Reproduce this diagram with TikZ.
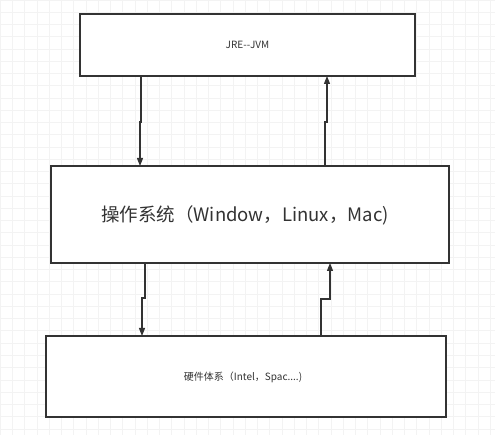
\documentclass[tikz,border=0pt]{standalone}
\usepackage{fontspec}
\setmainfont{Noto Sans CJK SC}
\usetikzlibrary{arrows.meta}
\definecolor{txt}{HTML}{333333}
\definecolor{edge}{HTML}{333333}
\definecolor{gridc}{HTML}{F3F3F3}
\tikzset{
  box/.style={draw=edge, line width=1.2pt, fill=white, inner sep=0pt},
  arr/.style={draw=edge, line width=1.2pt, -{Triangle[length=8pt,width=6pt]}},
  lbl/.style={text=txt, inner sep=0pt}
}
\begin{document}
\begin{tikzpicture}[x=1pt,y=-1pt]
\useasboundingbox (0,0) rectangle (495,435);
\fill[white] (0,0) rectangle (495,435);
\draw[gridc, line width=0.5pt, step=12.25pt] (0,0) grid (495,435);
% boxes
\draw[box] (80,14) rectangle (415,76);
\node[lbl, font=\fontsize{10}{12}\selectfont] (jre) at (247.5,45) {JRE{-}{-}JVM};
\draw[box] (51,166) rectangle (449,263);
\node[lbl, font=\fontsize{18.5}{22}\selectfont] (os) at (245,215) {操作系统（Window，Linux，Mac)};
\draw[box] (46,336) rectangle (446,417);
\node[lbl, font=\fontsize{10}{12}\selectfont] (hw) at (243,377) {硬件体系（Intel，Spac....)};
% connectors
\coordinate (a1) at (141,76);
\coordinate (a2) at (141,122);
\coordinate (a3) at (140,122);
\coordinate (a4) at (140,166);
\draw[arr] (a1) -- (a2) -- (a3) -- (a4);
\coordinate (b1) at (325,166);
\coordinate (b2) at (325,122);
\coordinate (b3) at (327,122);
\coordinate (b4) at (327,76);
\draw[arr] (b1) -- (b2) -- (b3) -- (b4);
\coordinate (c1) at (145,263);
\coordinate (c2) at (145,298);
\coordinate (c3) at (142,298);
\coordinate (c4) at (142,336);
\draw[arr] (c1) -- (c2) -- (c3) -- (c4);
\coordinate (d1) at (321,336);
\coordinate (d2) at (321,299);
\coordinate (d3) at (330,299);
\coordinate (d4) at (330,263);
\draw[arr] (d1) -- (d2) -- (d3) -- (d4);
\end{tikzpicture}
\end{document}
